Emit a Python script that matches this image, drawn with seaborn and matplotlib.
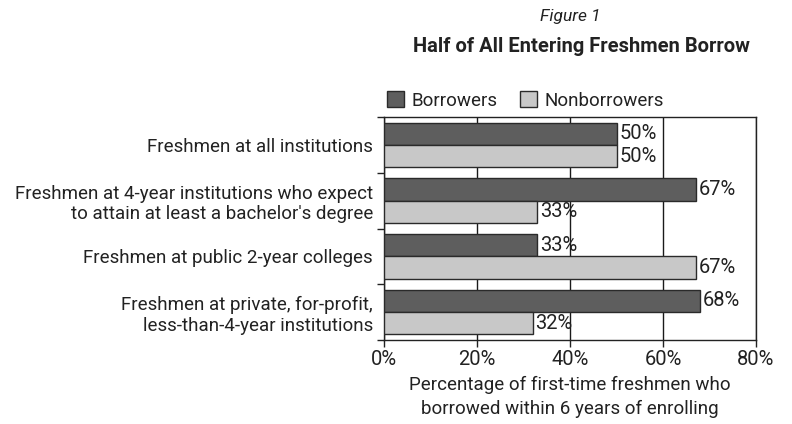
import matplotlib
matplotlib.use("Agg")
import matplotlib.pyplot as plt
import seaborn as sns
import pandas as pd
import numpy as np
from matplotlib.ticker import FixedLocator, PercentFormatter

categories = [
    "Freshmen at all institutions",
    "Freshmen at 4-year institutions who expect\nto attain at least a bachelor's degree",
    "Freshmen at public 2-year colleges",
    "Freshmen at private, for-profit,\nless-than-4-year institutions",
]
borrowers = [50, 67, 33, 68]
nonborrowers = [50, 33, 67, 32]
series = ["Borrowers", "Nonborrowers"]
xticks = [0, 20, 40, 60, 80]

sns.set_theme(style="white")
plt.rcParams['font.family'] = ['Roboto', 'DejaVu Sans']

df = pd.DataFrame({
    "category": categories * 2,
    "series": [series[0]] * 4 + [series[1]] * 4,
    "value": borrowers + nonborrowers,
})

fig = plt.figure(figsize=(7.92, 4.24), dpi=100)
ax = fig.add_axes([384/792, 1-340/424, (756-384)/792, (340-117)/424])

palette = {"Borrowers": "#5e5e5e", "Nonborrowers": "#c8c8c8"}
sns.barplot(data=df, y="category", x="value", hue="series", order=categories,
            hue_order=series, palette=palette, orient="h", width=0.8,
            edgecolor="#2a2a2a", linewidth=1.0, ax=ax, saturation=1, zorder=3)

for cont in ax.containers:
    ax.bar_label(cont, labels=[f"{int(round(v))}%" for v in cont.datavalues],
                 padding=2, fontsize=14.5, color="#222222")

ax.set_xlim(0, 80)
ax.set_ylim(3.5, -0.5)
ax.set_xticks(xticks)
ax.xaxis.set_major_formatter(PercentFormatter(decimals=0))
ax.tick_params(axis="x", labelsize=14.5, length=5, width=1, direction="out",
               colors="#222222", bottom=True, pad=2)
ax.tick_params(axis="y", labelsize=13.5, length=0, pad=8, colors="#222222")
ax.yaxis.set_minor_locator(FixedLocator([-0.5, 0.5, 1.5, 2.5, 3.5]))
ax.tick_params(axis="y", which="minor", length=5, width=1, left=True, color="#222222")
for lbl in ax.get_yticklabels():
    lbl.set_horizontalalignment("right")
    lbl.set_multialignment("right")

ax.grid(axis="x", color="#1a1a1a", linewidth=1.0, zorder=0)
ax.set_axisbelow(True)
for s in ax.spines.values():
    s.set_color("#222222")
    s.set_linewidth(1.0)

ax.set_ylabel("")
ax.set_xlabel("Percentage of first-time freshmen who\nborrowed within 6 years of enrolling",
              fontsize=13.5, color="#222222", labelpad=5, linespacing=1.45)

ax.legend(loc="lower left", bbox_to_anchor=(-0.012, 1.0), ncol=2, frameon=False,
          fontsize=13.5, handlelength=0.9, handleheight=0.9, columnspacing=1.2,
          handletextpad=0.4, borderaxespad=0.0, labelcolor="#222222")

fig.text(570/792, 1-17/424, "Figure 1", ha="center", va="center",
         fontsize=12.5, style="italic", color="#222222")
fig.text(581/792, 1-47/424, "Half of All Entering Freshmen Borrow", ha="center",
         va="center", fontsize=14.5, weight="bold", color="#222222")

fig.savefig("out.png", dpi=100)
